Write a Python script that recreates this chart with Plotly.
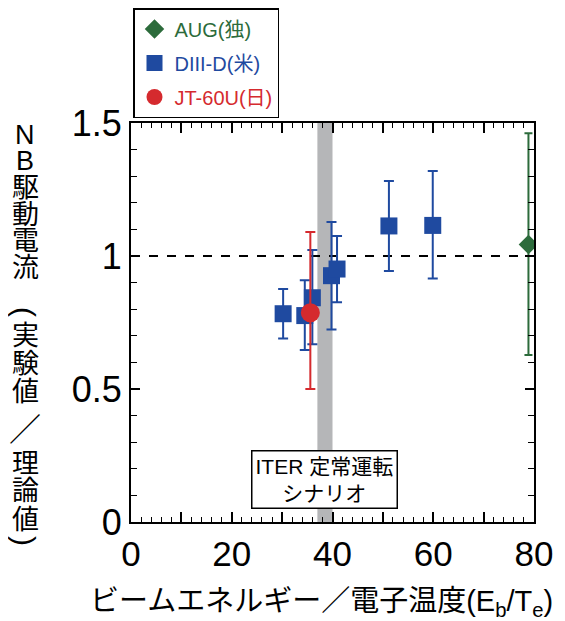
import plotly.graph_objects as go

# ---- data ----
diii_x = [30.2, 34.5, 36.0, 39.8, 40.9, 51.2, 59.9]
diii_y = [0.783, 0.776, 0.843, 0.926, 0.951, 1.113, 1.115]
diii_hi = [0.876, 0.909, 1.023, 1.128, 1.075, 1.282, 1.320]
diii_lo = [0.690, 0.647, 0.668, 0.724, 0.826, 0.944, 0.915]

jt_x = [35.6]
jt_y = [0.787]
jt_hi = [1.09]
jt_lo = [0.50]

aug_x = [78.9]
aug_y = [1.043]
aug_hi = [1.461]
aug_lo = [0.628]

iter_band = [37.0, 40.0]
ref_level = 1.0

x_tickvals = [0, 10, 20, 30, 40, 50, 60, 70, 80]
x_ticktext = ["0", "", "20", "", "40", "", "60", "", "80"]
y_tickvals = [0, 0.5, 1, 1.5]
y_ticktext = ["0", "0.5", "1", "1.5"]

GREEN = "#2c6b3b"
BLUE = "#1f4aa0"
RED = "#d52a2e"
FONT = "Liberation Sans, Noto Sans CJK JP, sans-serif"

# page is 565x621 but the figure sits at an 8px body offset
OFF = 8
W, H = 565 - OFF, 621 - OFF
L, R, T, B = 131 - OFF, 31, 123 - OFF, 99
PW, PH = W - L - R, H - T - B


def px2paper(px, py):
    # px, py given in page pixels
    return (px - OFF - L) / PW, (H - B - (py - OFF)) / PH


def err(vals, hi, lo):
    return [h - v for h, v in zip(hi, vals)], [v - l for v, l in zip(vals, lo)]


fig = go.Figure()

up, dn = err(aug_y, aug_hi, aug_lo)
fig.add_trace(go.Scatter(
    x=aug_x, y=aug_y, mode="markers",
    name=f"<span style='color:{GREEN}'>AUG(独)</span>",
    marker=dict(symbol="diamond", size=15, color=GREEN),
    error_y=dict(type="data", array=up, arrayminus=dn, color=GREEN, thickness=2, width=4),
    legendgroup="a",
))
up, dn = err(diii_y, diii_hi, diii_lo)
fig.add_trace(go.Scatter(
    x=diii_x, y=diii_y, mode="markers",
    name=f"<span style='color:{BLUE}'>DIII-D(米)</span>",
    marker=dict(symbol="square", size=17, color=BLUE),
    error_y=dict(type="data", array=up, arrayminus=dn, color=BLUE, thickness=2, width=5),
    legendgroup="b",
))
up, dn = err(jt_y, jt_hi, jt_lo)
fig.add_trace(go.Scatter(
    x=jt_x, y=jt_y, mode="markers",
    name=f"<span style='color:{RED}'>JT-60U(日)</span>",
    marker=dict(symbol="circle", size=19, color=RED),
    error_y=dict(type="data", array=up, arrayminus=dn, color=RED, thickness=2, width=5),
    legendgroup="c",
))

# ITER band and reference line
fig.add_shape(type="rect", xref="x", yref="y", x0=iter_band[0], x1=iter_band[1],
              y0=0, y1=1.5, fillcolor="#b5b6b8", line_width=0, layer="below")
fig.add_shape(type="line", xref="x", yref="y", x0=0, x1=80, y0=ref_level, y1=ref_level,
              line=dict(color="black", width=2, dash="dash"), layer="below")

fig.add_annotation(x=sum(iter_band) / 2, y=0.16, xref="x", yref="y",
                   text="ITER 定常運転<br>シナリオ", showarrow=False,
                   font=dict(size=21, color="black", family=FONT),
                   bgcolor="white", bordercolor="black", borderwidth=1.5, borderpad=3)

# x-axis title
xt, yt = px2paper(321, 603)
fig.add_annotation(x=xt, y=yt, xref="paper", yref="paper", showarrow=False,
                   text="ビームエネルギー／電子温度(E<sub>b</sub>/T<sub>e</sub>)",
                   font=dict(size=29, color="black", family=FONT), xanchor="center", yanchor="middle")

# vertical y-axis title, one glyph per position (parentheses rotated for vertical writing)
ytitle_chars = ["N", "B", "駆", "動", "電", "流", "(", "実", "験", "値", "／", "理", "論", "値", ")"]
ytitle_py = [135, 161, 188, 215, 241, 268, 312, 336, 364, 392, 430, 464, 491, 520, 541]
for ch, py in zip(ytitle_chars, ytitle_py):
    xx, yy = px2paper(25, py)
    rot = 90 if ch in "()" else 0
    size = 32 if ch == "／" else (30 if ch in "()" else 27)
    fig.add_annotation(x=xx, y=yy, xref="paper", yref="paper", showarrow=False,
                       text=ch, textangle=rot,
                       font=dict(size=size, color="black", family=FONT),
                       xanchor="center", yanchor="middle")

fig.update_layout(
    width=W, height=H,
    margin=dict(l=L, r=R, t=T, b=B, autoexpand=False),
    paper_bgcolor="white", plot_bgcolor="white",
    font=dict(family=FONT, color="black"),
    showlegend=True,
    legend=dict(xref="container", yref="container", x=(133 - OFF) / W, y=1 - (8 - OFF) / H,
                xanchor="left", yanchor="top",
                bordercolor="black", borderwidth=1.5, bgcolor="white",
                font=dict(size=20, family=FONT), tracegroupgap=5,
                itemsizing="trace"),
    xaxis=dict(range=[0, 80], tickvals=x_tickvals, ticktext=x_ticktext, automargin=False,
               ticks="inside", ticklen=10, tickwidth=1.5, tickcolor="black",
               showline=True, linecolor="black", linewidth=2, mirror="allticks",
               showgrid=False, zeroline=False,
               tickfont=dict(size=35, family=FONT),
               minor=dict(dtick=2, tick0=0, ticks="inside", ticklen=5, tickwidth=1.2,
                          tickcolor="black", showgrid=False)),
    yaxis=dict(range=[0, 1.5], tickvals=y_tickvals, ticktext=y_ticktext, automargin=False,
               ticks="inside", ticklen=9, tickwidth=1.5, tickcolor="black",
               showline=True, linecolor="black", linewidth=2, mirror="allticks",
               showgrid=False, zeroline=False,
               tickfont=dict(size=36, family=FONT),
               minor=dict(dtick=0.1, tick0=0, ticks="inside", ticklen=6, tickwidth=1.2,
                          tickcolor="black", showgrid=False)),
)

fig.write_html("out.html")
